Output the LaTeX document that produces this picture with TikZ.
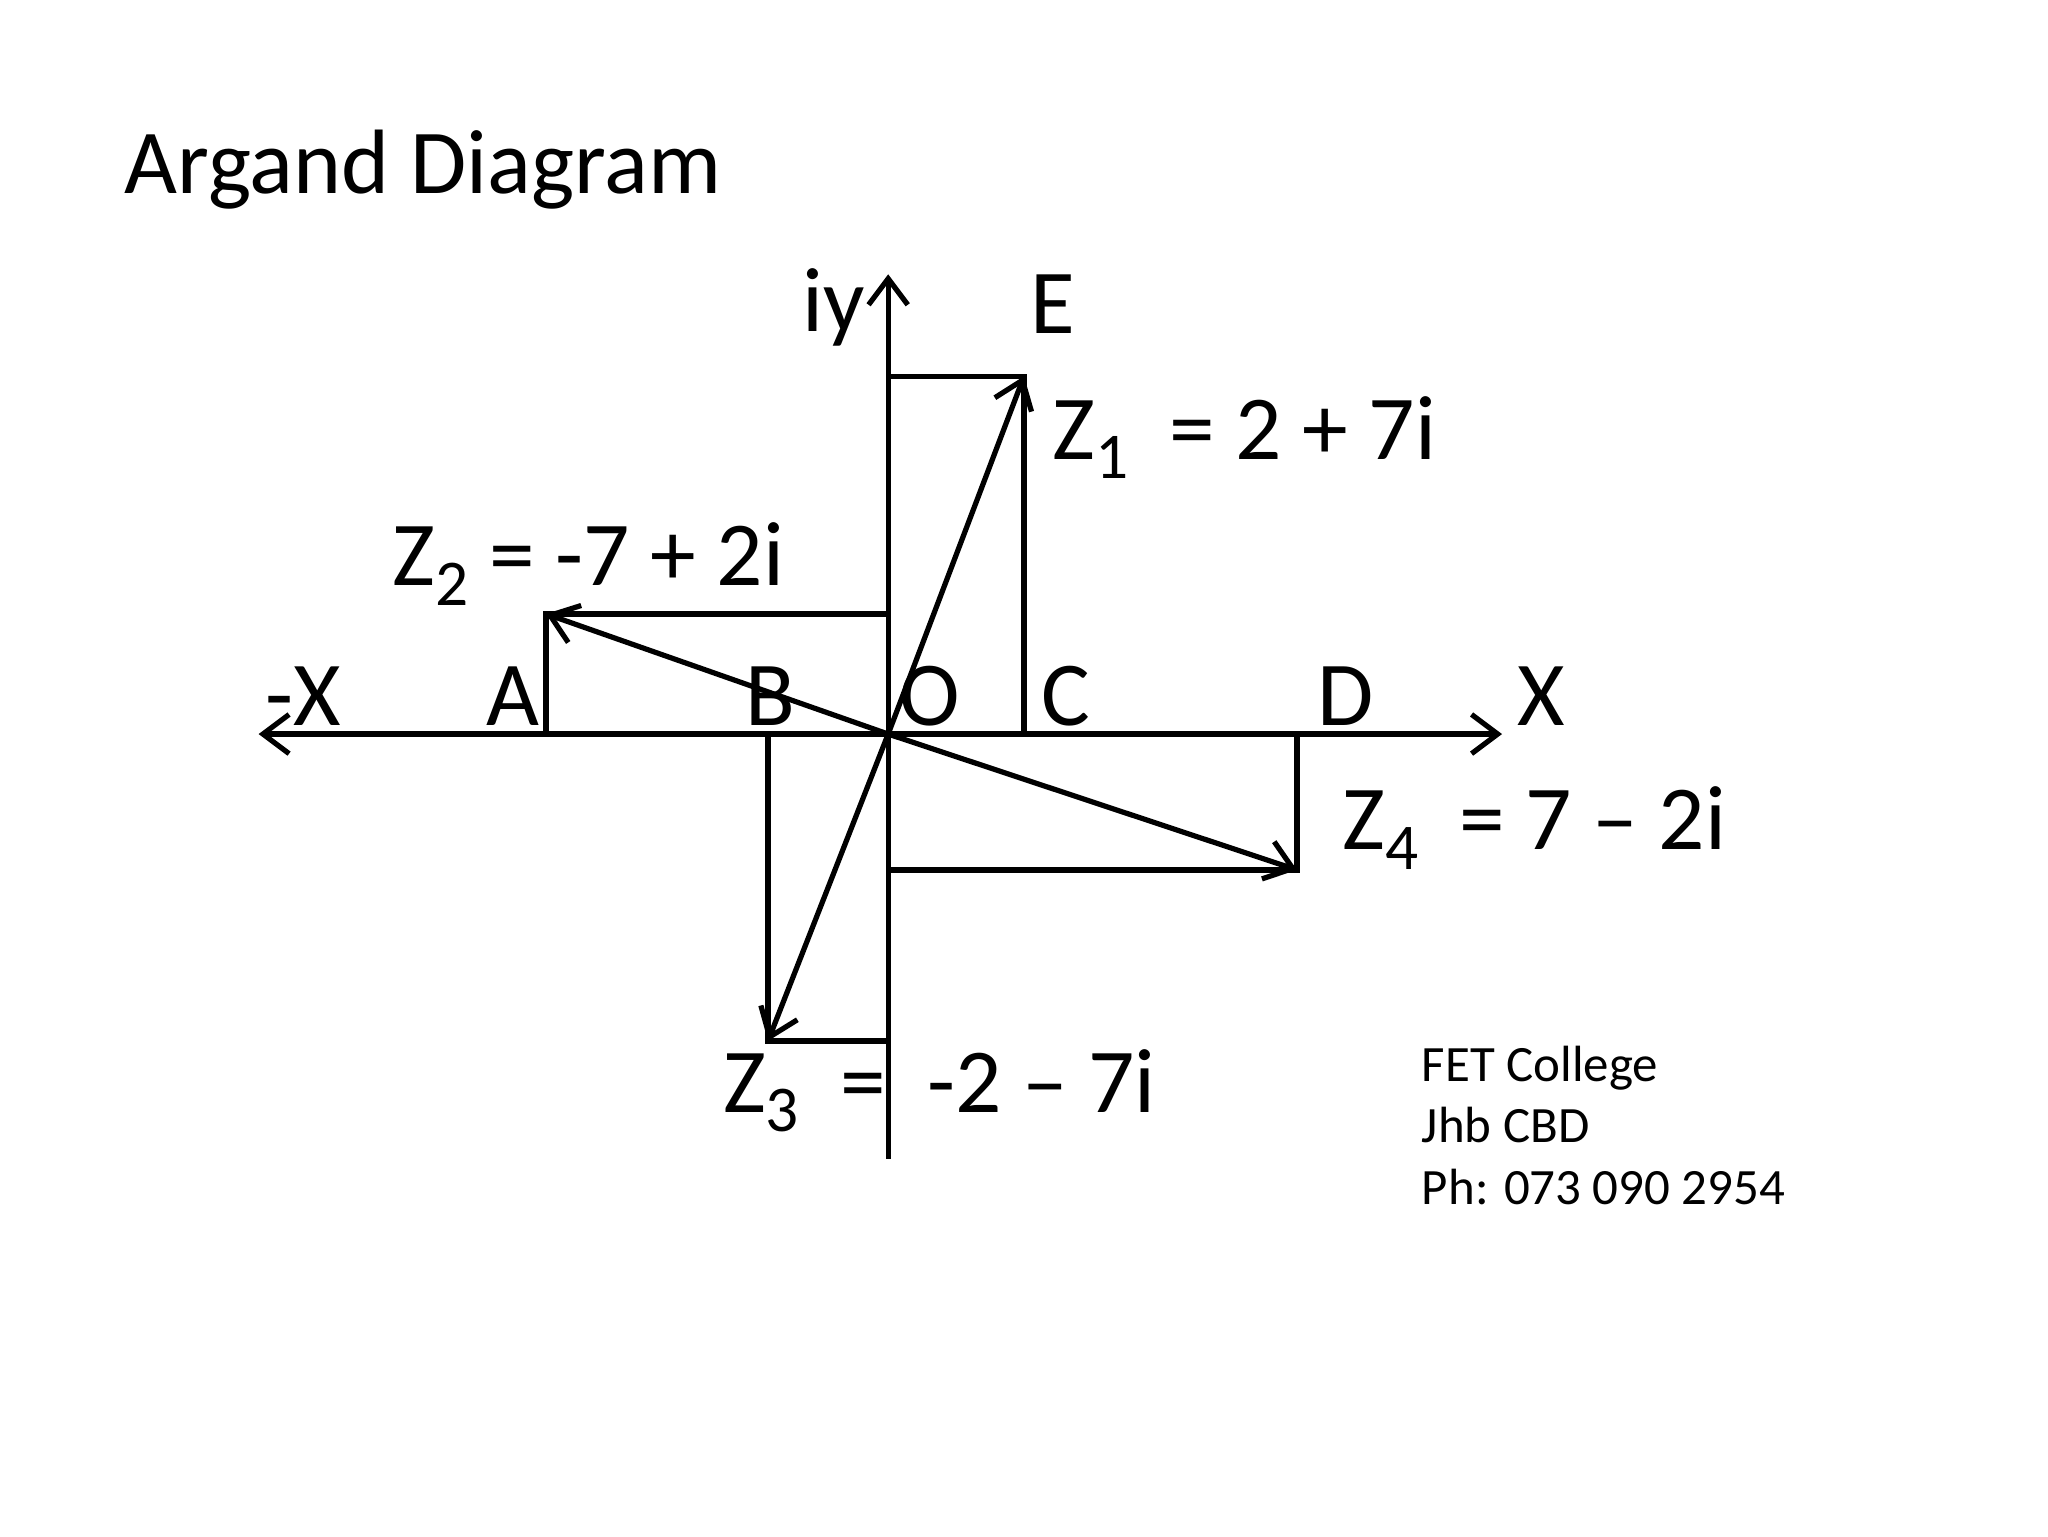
\documentclass[tikz,border=0pt]{standalone}
\usepackage{fontspec}
\setmainfont{Carlito}
\usetikzlibrary{arrows.meta}
\newcommand{\sbs}[1]{\raisebox{-0.45ex}{\fontsize{15}{15}\selectfont #1}}
\begin{document}
\begin{tikzpicture}[x=0.3pt,y=-0.3pt,
  ln/.style={line width=1.2pt,black},
  arr/.style={ln,-{Straight Barb[length=6pt,width=9pt]}},
  lbl/.style={font=\fontsize{21}{24}\selectfont,inner sep=0pt}]
\useasboundingbox (0,0) rectangle (1568,1176);
\node[anchor=west,inner sep=0pt,font=\fontsize{21}{26}\selectfont] (title) at (95,130) {Argand Diagram};
\coordinate (O) at (680,562);
\coordinate (xl) at (198,562);
\coordinate (xr) at (1150,562);
\coordinate (yb) at (680,887);
\coordinate (yt) at (680,210);
\draw[ln,{Straight Barb[length=6pt,width=9pt]}-{Straight Barb[length=6pt,width=9pt]}] (xl) -- (xr);
\draw[arr] (yb) -- (yt);
\coordinate (z1) at (784,288);
\coordinate (z2) at (418,470);
\coordinate (z3) at (588,797);
\coordinate (z4) at (993,666);
\draw[ln] (680,288) -- (z1) -- (784,562);
\draw[ln] (418,562) -- (z2) -- (680,470);
\draw[ln] (588,562) -- (z3) -- (680,797);
\draw[ln] (993,562) -- (z4) -- (680,666);
\draw[arr] (O) -- (z1);
\draw[arr] (O) -- (z2);
\draw[arr] (O) -- (z3);
\draw[arr] (O) -- (z4);
\node[lbl] (iy) at (638,235) {iy};
\node[lbl] (E) at (806,233) {E};
\node[lbl,anchor=west] (l1) at (805,335) {Z\sbs{1}\ \ = 2 + 7i};
\node[lbl,anchor=west] (l2) at (300,432) {Z\sbs{2} = -7 + 2i};
\node[lbl] (mX) at (232,533) {-X};
\node[lbl] (A) at (393,533) {A};
\node[lbl] (B) at (590,533) {B};
\node[lbl] (Ol) at (712,533) {O};
\node[lbl] (C) at (816,533) {C};
\node[lbl] (D) at (1030,533) {D};
\node[lbl] (X) at (1180,533) {X};
\node[lbl,anchor=west] (l4) at (1027,634) {Z\sbs{4}\ \ = 7 – 2i};
\node[lbl,anchor=west] (l3) at (553,835) {Z\sbs{3}\ \ =\ \ -2 – 7i};
\node[anchor=north west,align=left,inner sep=0pt,font=\fontsize{11.7}{14.2}\selectfont] (ft) at (1088,800) {FET College\\Jhb CBD\\Ph: 073 090 2954};
\end{tikzpicture}
\end{document}
